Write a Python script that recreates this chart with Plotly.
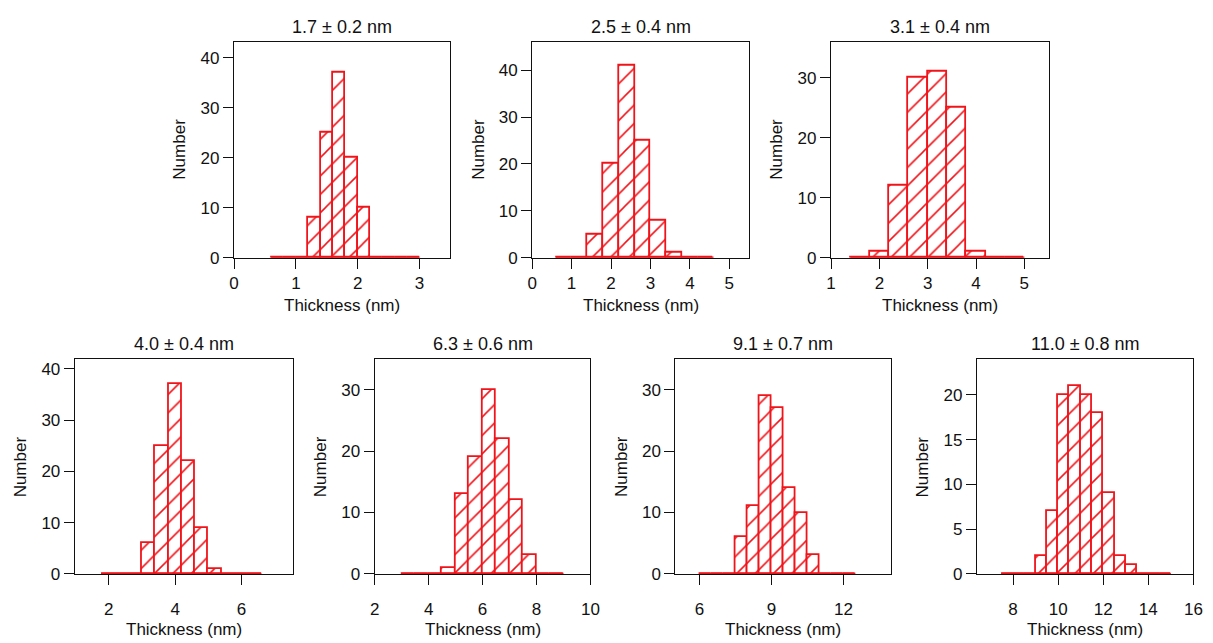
import plotly.graph_objects as go

# ---- data ----
titles = ["1.7 ± 0.2 nm", "2.5 ± 0.4 nm", "3.1 ± 0.4 nm",
          "4.0 ± 0.4 nm", "6.3 ± 0.6 nm", "9.1 ± 0.7 nm", "11.0 ± 0.8 nm"]

bin_start = [0.6, 0.6, 1.4, 1.8, 3.0, 6.0, 7.5]
bin_width = [0.2, 0.4, 0.4, 0.4, 0.5, 0.5, 0.5]

counts_1 = [0, 0, 0, 8, 25, 37, 20, 10, 0, 0, 0, 0]
counts_2 = [0, 0, 5, 20, 41, 25, 8, 1, 0, 0]
counts_3 = [0, 1, 12, 30, 31, 25, 1, 0, 0]
counts_4 = [0, 0, 0, 6, 25, 37, 22, 9, 1, 0, 0, 0]
counts_5 = [0, 0, 0, 1, 13, 19, 30, 22, 12, 3, 0, 0]
counts_6 = [0, 0, 0, 6, 11, 29, 27, 14, 10, 3, 0, 0, 0]
counts_7 = [0, 0, 0, 2, 7, 20, 21, 20, 18, 9, 2, 1, 0, 0, 0]
counts = [counts_1, counts_2, counts_3, counts_4, counts_5, counts_6, counts_7]

x_ranges = [[0, 3.5], [0, 5.5], [1, 5.5], [0.98, 7.56], [2, 10], [5, 14], [6.4, 16]]
y_ranges = [[0, 43.2], [0, 46.1], [0, 36], [0, 41.9], [0, 35], [0, 35], [0, 24]]
x_tick0 = [0, 0, 1, 2, 2, 6, 8]
x_dtick = [1, 1, 1, 2, 2, 3, 2]
y_dtick = [10, 10, 10, 10, 10, 10, 5]

# ---- layout geometry (pixels) ----
W, H = 1213, 643
px_left = [231.7, 533.3, 835.7, 70.7, 374.0, 678.3, 983.3]
px_right = [450.7, 752.7, 1055.7, 291.7, 592.3, 896.7, 1202.3]
row_top = [42.3, 42.3, 42.3, 364.7, 364.7, 364.7, 364.7]
row_bot = [261.7, 261.7, 261.7, 583.0, 583.0, 583.0, 583.0]

RED = "#f0141a"
FONT = "Liberation Sans, Arial, sans-serif"

fig = go.Figure()
layout = dict(
    width=W, height=H, margin=dict(l=0, r=0, t=0, b=0),
    paper_bgcolor="white", plot_bgcolor="white",
    showlegend=False, font=dict(family=FONT, size=17, color="#111"),
    bargap=0,
)
annotations = []

for i in range(7):
    n = i + 1
    row2 = i >= 3
    xa = "x" if n == 1 else f"x{n}"
    ya = "y" if n == 1 else f"y{n}"
    w = bin_width[i]
    c = counts[i]
    centers = [bin_start[i] + w * (k + 0.5) for k in range(len(c))]
    x_lo = bin_start[i]
    x_hi = bin_start[i] + w * len(c)
    # baseline of the (empty) bins
    fig.add_trace(go.Scatter(x=[x_lo, x_hi], y=[0, 0], mode="lines",
                             line=dict(color=RED, width=2.4), xaxis=xa, yaxis=ya,
                             hoverinfo="skip"))
    fig.add_trace(go.Bar(x=centers, y=c, width=[w] * len(c), xaxis=xa, yaxis=ya,
                         marker=dict(color="white",
                                     line=dict(color=RED, width=1.8),
                                     pattern=dict(shape="/", fgcolor=RED, bgcolor="white",
                                                  fgopacity=1, size=13, solidity=0.12))))
    axcommon = dict(showline=True, linecolor="#111", linewidth=1.3, mirror=True,
                    ticks="outside", ticklen=10, tickwidth=1.3, tickcolor="#111",
                    showgrid=False, zeroline=False, layer="below traces",
                    tickfont=dict(family=FONT, size=17, color="#111"))
    layout["xaxis" if n == 1 else f"xaxis{n}"] = dict(
        domain=[px_left[i] / W, px_right[i] / W], anchor=ya,
        range=x_ranges[i], tick0=x_tick0[i], dtick=x_dtick[i],
        ticklabelstandoff=10 if row2 else 0, **axcommon)
    layout["yaxis" if n == 1 else f"yaxis{n}"] = dict(
        domain=[1 - row_bot[i] / H, 1 - row_top[i] / H], anchor=xa,
        range=y_ranges[i], tick0=0, dtick=y_dtick[i], **axcommon)
    xd = xa + " domain"
    yd = ya + " domain"
    annotations.append(dict(text=titles[i], xref=xd, yref=yd, x=0.5, y=1,
                            xanchor="center", yanchor="bottom", yshift=3,
                            showarrow=False, font=dict(family=FONT, size=18, color="#111")))
    annotations.append(dict(text="Thickness (nm)", xref=xd, yref=yd, x=0.5, y=0,
                            xanchor="center", yanchor="middle",
                            yshift=-56 if row2 else -48,
                            showarrow=False, font=dict(family=FONT, size=17, color="#111")))
    annotations.append(dict(text="Number", xref=xd, yref=yd, x=0, y=0.5,
                            xanchor="center", yanchor="middle", xshift=-54, textangle=-90,
                            showarrow=False, font=dict(family=FONT, size=17, color="#111")))

layout["annotations"] = annotations
fig.update_layout(**layout)
fig.write_html("out.html")
